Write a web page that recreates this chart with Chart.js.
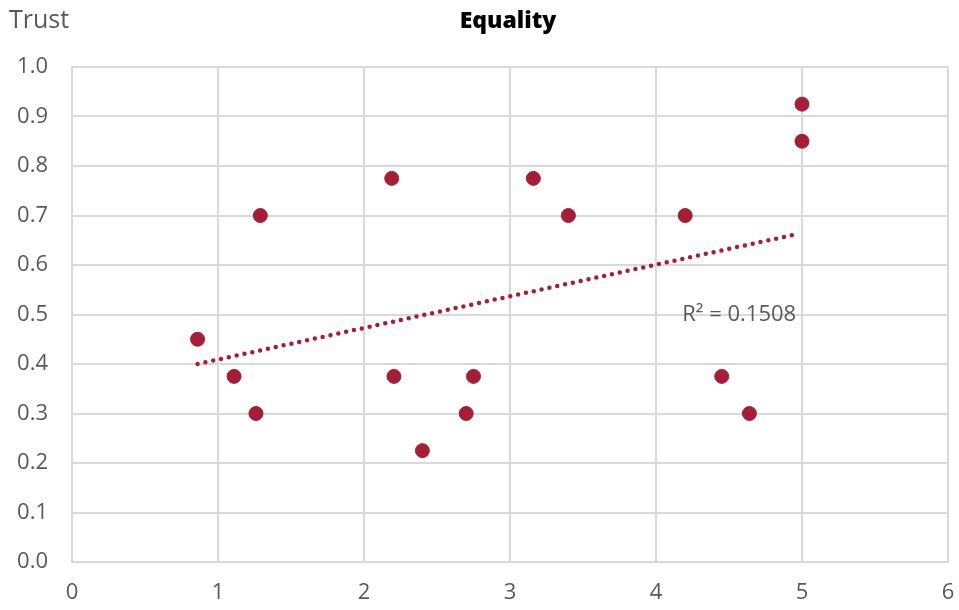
<!DOCTYPE html>
<html>
<head>
<meta charset="utf-8">
<script src="https://cdn.jsdelivr.net/npm/chart.js@4.4.1/dist/chart.umd.min.js"></script>
<style>
  html, body { margin: 0; padding: 0; background: #fff; }
  #wrap { width: 959px; height: 610px; }
</style>
</head>
<body>
<div id="wrap"><canvas id="chart-equality"></canvas></div>
<script>
// Equality score vs trust
const equality = [0.86, 1.11, 1.26, 1.29, 2.19, 2.205, 2.40, 2.70, 2.75, 3.16, 3.40, 4.20, 4.45, 4.64, 5.0, 5.0];
const trust = [0.45, 0.375, 0.30, 0.70, 0.775, 0.375, 0.225, 0.30, 0.375, 0.775, 0.70, 0.70, 0.375, 0.30, 0.85, 0.925];
const rSquaredLabel = 'R² = 0.1508';

const points = equality.map((x, i) => ({ x: x, y: trust[i] }));

// least squares trendline
const n = equality.length;
const mx = equality.reduce((a, b) => a + b, 0) / n;
const my = trust.reduce((a, b) => a + b, 0) / n;
let sxy = 0, sxx = 0;
for (let i = 0; i < n; i++) {
    sxy += (equality[i] - mx) * (trust[i] - my);
    sxx += (equality[i] - mx) * (equality[i] - mx);
}
const slope = sxy / sxx;
const intercept = my - slope * mx;
const xMin = Math.min(...equality);
const xMax = 4.96;
const trend = [
    { x: xMin, y: intercept + slope * xMin },
    { x: xMax, y: intercept + slope * xMax }
];

const gridColor = '#d9d9d9';
const textColor = '#595959';
const fontFamily = '"Open Sans", "Noto Sans", sans-serif';

const extraText = {
    id: 'extraText',
    afterDraw(chart) {
        const c = chart.ctx;
        const xs = chart.scales.x, ys = chart.scales.y;
        c.save();
        c.fillStyle = textColor;
        c.font = '25px ' + fontFamily;
        c.textBaseline = 'middle';
        c.textAlign = 'left';
        c.fillText('Trust', 9, 21);
        c.font = '22px ' + fontFamily;
        c.fillText(rSquaredLabel, xs.getPixelForValue(4.18), ys.getPixelForValue(0.5));
        c.fillStyle = '#000';
        c.font = '800 23px ' + fontFamily;
        c.textAlign = 'center';
        c.fillText('Equality', 508, 21);
        c.restore();
    }
};

const ctx = document.getElementById('chart-equality').getContext('2d');
new Chart(ctx, {
    type: 'scatter',
    data: {
        datasets: [
            {
                label: 'Equality',
                data: points,
                backgroundColor: '#a51e36',
                borderColor: '#a51e36',
                pointRadius: 7,
                pointHoverRadius: 7,
                order: 1
            },
            {
                type: 'line',
                label: 'Trend',
                data: trend,
                borderColor: '#a51e36',
                borderWidth: 4.5,
                borderDash: [0, 8],
                borderCapStyle: 'round',
                pointRadius: 0,
                fill: false,
                order: 2
            }
        ]
    },
    options: {
        responsive: true,
        maintainAspectRatio: false,
        animation: false,
        layout: { padding: { top: 67, right: 0, bottom: 0, left: 0 } },
        plugins: {
            legend: { display: false },
            title: { display: false },
            tooltip: { enabled: false }
        },
        scales: {
            x: {
                type: 'linear',
                min: 0,
                max: 6,
                afterFit: (s) => { s.height = 48; s.paddingRight = 11; },
                grid: { color: gridColor, lineWidth: 2, drawTicks: false },
                border: { color: gridColor, width: 2 },
                ticks: {
                    stepSize: 1,
                    padding: 18,
                    color: textColor,
                    font: { family: fontFamily, size: 22 }
                }
            },
            y: {
                min: 0,
                max: 1,
                afterFit: (s) => { s.width = 72; },
                grid: { color: gridColor, lineWidth: 2, drawTicks: false },
                border: { color: gridColor, width: 2 },
                ticks: {
                    stepSize: 0.1,
                    padding: 24,
                    color: textColor,
                    font: { family: fontFamily, size: 22 },
                    callback: (v) => v.toFixed(1)
                }
            }
        }
    },
    plugins: [extraText]
});
</script>
</body>
</html>
